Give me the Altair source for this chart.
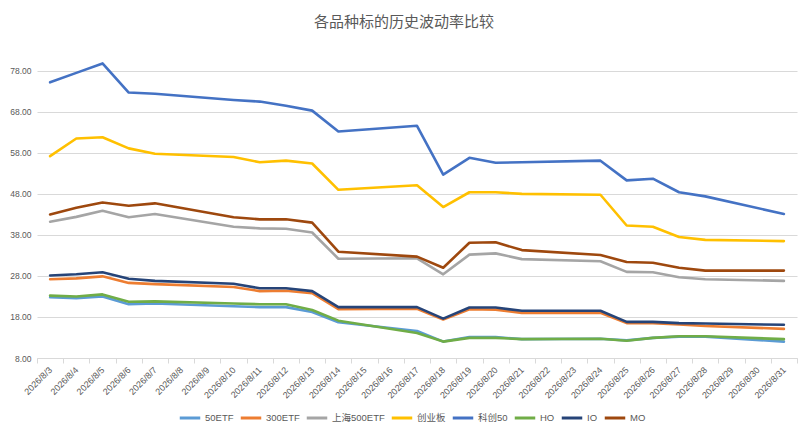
import altair as alt
import pandas as pd

# all calendar days on the axis; the series only have trading days
ALL_DAYS = [f"2026/8/{d}" for d in range(3, 32)]
TRADE_DAYS = [f"2026/8/{d}" for d in
              [3, 4, 5, 6, 7, 10, 11, 12, 13, 14, 17, 18, 19, 20, 21, 24, 25, 26, 27, 28, 31]]

SERIES = ["50ETF", "300ETF", "上海500ETF", "创业板", "科创50", "HO", "IO", "MO"]
COLORS = ["#5B9BD5", "#ED7D31", "#A5A5A5", "#FFC000", "#4472C4", "#70AD47", "#264478", "#9E480E"]

etf50 = [22.8, 22.6, 23.0, 21.1, 21.3, 20.6, 20.4, 20.4, 19.2, 16.7, 14.6,
         12.0, 13.1, 13.1, 12.6, 12.7, 12.3, 12.9, 13.2, 13.2, 12.0]
etf300 = [27.2, 27.4, 27.9, 26.3, 26.0, 25.3, 24.3, 24.4, 23.8, 19.9, 20.0,
          17.4, 19.9, 19.8, 19.0, 19.0, 16.5, 16.5, 16.2, 15.8, 15.1]
sh500 = [41.2, 42.4, 43.9, 42.3, 43.1, 40.0, 39.6, 39.5, 38.6, 32.2, 32.3,
         28.4, 33.2, 33.5, 32.1, 31.6, 29.0, 28.9, 27.7, 27.2, 26.8]
cyb = [57.2, 61.5, 61.8, 59.1, 57.8, 57.0, 55.7, 56.1, 55.4, 49.0, 50.1,
       44.8, 48.4, 48.4, 48.0, 47.8, 40.3, 40.0, 37.5, 36.8, 36.5]
kc50 = [75.2, 77.5, 79.8, 72.7, 72.4, 70.9, 70.5, 69.5, 68.3, 63.2, 64.6,
        52.7, 56.8, 55.6, 55.7, 56.1, 51.3, 51.7, 48.4, 47.4, 43.1]
ho = [23.2, 23.0, 23.5, 21.7, 21.8, 21.3, 21.1, 21.1, 19.7, 17.1, 14.1,
      12.0, 12.9, 12.9, 12.6, 12.7, 12.2, 12.9, 13.3, 13.3, 12.6]
io = [28.1, 28.4, 28.9, 27.3, 26.8, 26.1, 25.0, 25.0, 24.3, 20.4, 20.4,
      17.6, 20.3, 20.3, 19.5, 19.5, 16.8, 16.8, 16.5, 16.4, 16.1]
mo = [43.0, 44.6, 45.9, 45.1, 45.7, 42.3, 41.8, 41.8, 41.0, 33.9, 32.7,
      30.0, 36.1, 36.2, 34.3, 33.1, 31.4, 31.2, 30.0, 29.3, 29.3]

Y_TICKS = [8, 18, 28, 38, 48, 58, 68, 78]
CJK_FONT = "Noto Sans CJK SC"
NUM_FONT = "Liberation Sans, Noto Sans CJK SC"
GREY = "#595959"

rows = []
for name, values in zip(SERIES, [etf50, etf300, sh500, cyb, kc50, ho, io, mo]):
    for day, v in zip(TRADE_DAYS, values):
        rows.append({"date": day, "series": name, "value": v})
df = pd.DataFrame(rows)

chart = (
    alt.Chart(df)
    .mark_line(strokeWidth=2.6, strokeCap="round", strokeJoin="round")
    .encode(
        x=alt.X(
            "date:O",
            title=None,
            bandPosition=0.5,
            scale=alt.Scale(type="band", domain=ALL_DAYS, paddingInner=0, paddingOuter=0),
            axis=alt.Axis(
                labelAngle=-45, labelAlign="right", labelBaseline="middle",
                labelFontSize=9, labelColor=GREY, labelFont=NUM_FONT, labelPadding=5,
                tickBand="extent", tickColor="#D9D9D9", tickSize=5,
                domainColor="#D9D9D9", grid=False,
            ),
        ),
        y=alt.Y(
            "value:Q",
            title=None,
            scale=alt.Scale(domain=[8, 86], nice=False, zero=False),
            axis=alt.Axis(
                values=Y_TICKS, format=".2f", labelFontSize=8.5, labelColor=GREY,
                labelFont=NUM_FONT, labelPadding=6, ticks=False, domain=False,
                gridColor="#D9D9D9", gridWidth=1,
            ),
        ),
        color=alt.Color(
            "series:N",
            title=None,
            sort=SERIES,
            scale=alt.Scale(domain=SERIES, range=COLORS),
            legend=alt.Legend(
                orient="none", legendX=141, legendY=368, direction="horizontal",
                columns=8, symbolType="stroke", symbolSize=420, symbolStrokeWidth=3,
                labelFontSize=9.5, labelColor=GREY, labelFont=NUM_FONT,
                labelOffset=3, columnPadding=0,
            ),
        ),
    )
    .properties(
        width=760,
        height=320,
        autosize=alt.AutoSizeParams(type="none"),
        padding={"left": 29, "top": 30, "right": 4, "bottom": 69},
        title=alt.TitleParams(
            "各品种标的历史波动率比较", font=CJK_FONT, fontSize=15, fontWeight="normal",
            color=GREY, anchor="middle", dx=-13, offset=8,
        ),
    )
    .configure_view(stroke=None)
)

chart.save("out.html", embed_options={"renderer": "svg", "actions": False})
